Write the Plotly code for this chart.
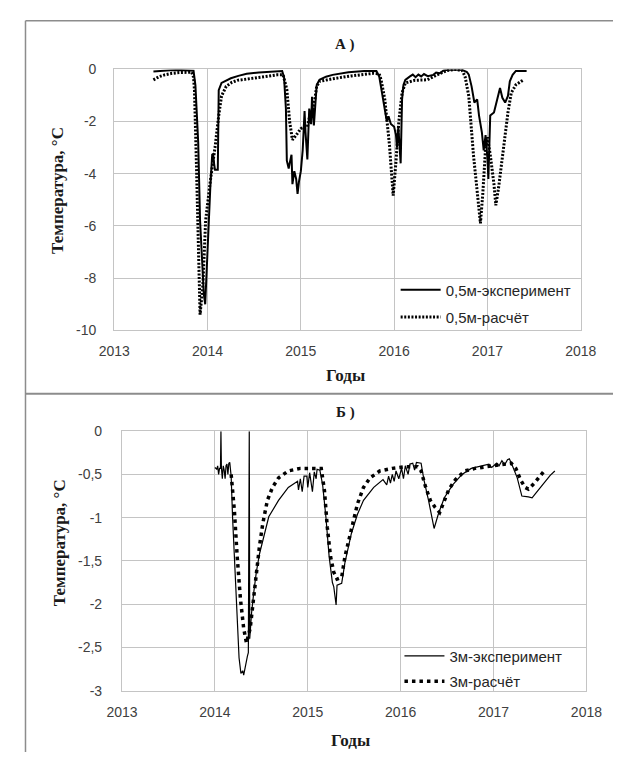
import plotly.graph_objects as go

# ---------------- data ----------------
x_ticks = [2013, 2014, 2015, 2016, 2017, 2018]
x_tick_labels = ["2013", "2014", "2015", "2016", "2017", "2018"]
ya_ticks = [0, -2, -4, -6, -8, -10]
ya_tick_labels = ["0", "-2", "-4", "-6", "-8", "-10"]
yb_ticks = [0, -0.5, -1, -1.5, -2, -2.5, -3]
yb_tick_labels = ["0", "-0,5", "-1", "-1,5", "-2", "-2,5", "-3"]

# Panel A: 0.5 m experiment
a_exp_year = [2013.42, 2013.5, 2013.6, 2013.7, 2013.8, 2013.85, 2013.87, 2013.89, 2013.90, 2013.92,
              2013.94, 2013.96, 2013.975, 2013.985, 2014.0, 2014.03, 2014.05, 2014.06, 2014.07, 2014.08,
              2014.11, 2014.12, 2014.15, 2014.2, 2014.25, 2014.33, 2014.42, 2014.55, 2014.66, 2014.8,
              2014.82, 2014.84, 2014.85, 2014.87, 2014.88, 2014.90, 2014.91, 2014.93, 2014.95, 2014.965,
              2014.98, 2015.0, 2015.02, 2015.04, 2015.05, 2015.07, 2015.09, 2015.11, 2015.12, 2015.14,
              2015.17, 2015.2, 2015.27, 2015.34, 2015.51, 2015.68, 2015.81, 2015.84, 2015.87, 2015.89,
              2015.92, 2015.94, 2015.965, 2016.0, 2016.02, 2016.03, 2016.045, 2016.07, 2016.085, 2016.1,
              2016.12, 2016.17, 2016.2, 2016.23, 2016.26, 2016.29, 2016.32, 2016.36, 2016.42, 2016.45,
              2016.49, 2016.53, 2016.56, 2016.65, 2016.73, 2016.78, 2016.8, 2016.83, 2016.86, 2016.89,
              2016.91, 2016.94, 2016.96, 2016.98, 2017.0, 2017.01, 2017.02, 2017.03, 2017.07, 2017.1,
              2017.12, 2017.135, 2017.16, 2017.19, 2017.22, 2017.24, 2017.27, 2017.305, 2017.42]
a_exp_temp = [-0.08, -0.05, -0.03, -0.02, -0.03, -0.05, -0.6, -2.0, -2.8, -5.8,
              -7.5, -8.6, -9.0, -8.2, -6.5, -4.5, -3.27, -3.25, -3.6, -3.85,
              -3.85, -0.8, -0.52, -0.42, -0.34, -0.25, -0.17, -0.12, -0.09, -0.06,
              -0.3, -1.5, -3.5, -3.8, -3.6, -3.27, -4.4, -3.9, -4.2, -4.77,
              -4.3, -3.9, -3.1, -1.6, -2.4, -3.45, -1.5, -2.1, -1.05, -2.15,
              -0.6, -0.4, -0.28, -0.21, -0.11, -0.06, -0.06, -0.27, -0.9, -1.4,
              -1.96, -1.8, -2.09, -2.2, -2.52, -3.0, -2.2, -3.6, -1.15, -0.6,
              -0.4, -0.27, -0.2, -0.3, -0.2, -0.27, -0.18, -0.26, -0.21, -0.12,
              -0.15, -0.04, -0.02, 0.0, -0.02, -0.1, -0.2, -0.65, -1.27, -1.15,
              -1.77, -2.4, -3.1, -2.52, -3.4, -4.2, -2.8, -1.77, -1.65, -1.2,
              -0.9, -0.71, -1.09, -1.27, -1.02, -0.46, -0.21, -0.06, -0.06]

# Panel A: 0.5 m calculation
a_calc_year = [2013.42, 2013.48, 2013.54, 2013.62, 2013.71, 2013.83, 2013.85, 2013.86, 2013.88, 2013.9,
               2013.92, 2013.95, 2013.98, 2014.03, 2014.08, 2014.12, 2014.15, 2014.2, 2014.26, 2014.32,
               2014.49, 2014.66, 2014.745, 2014.81, 2014.85, 2014.88, 2014.91, 2014.95, 2015.0, 2015.05,
               2015.07, 2015.1, 2015.135, 2015.17, 2015.2, 2015.34, 2015.54, 2015.78, 2015.84, 2015.86,
               2015.9, 2015.95, 2015.99, 2016.02, 2016.05, 2016.085, 2016.12, 2016.22, 2016.355, 2016.46,
               2016.56, 2016.66, 2016.73, 2016.76, 2016.8, 2016.85, 2016.9, 2016.925, 2016.95, 2016.98,
               2017.0, 2017.03, 2017.07, 2017.09, 2017.12, 2017.17, 2017.22, 2017.255, 2017.305, 2017.36,
               2017.39]
a_calc_temp = [-0.4, -0.28, -0.21, -0.15, -0.12, -0.11, -0.3, -0.8, -3.5, -7.0,
               -9.4, -8.27, -5.78, -4.27, -3.0, -1.77, -1.02, -0.65, -0.5, -0.42,
               -0.34, -0.27, -0.21, -0.21, -0.77, -2.0, -2.7, -2.52, -2.27, -2.2,
               -2.2, -1.7, -1.52, -0.65, -0.46, -0.36, -0.25, -0.15, -0.17, -0.4,
               -1.15, -2.9, -4.84, -3.52, -2.02, -0.9, -0.52, -0.42, -0.4, -0.21,
               -0.05, 0.0, -0.05, -0.27, -1.02, -3.27, -5.15, -5.9, -4.77, -3.02,
               -2.6, -3.27, -4.4, -5.21, -4.52, -3.02, -1.65, -0.9, -0.59, -0.46,
               -0.4]

# Panel B: 3 m experiment
b_exp_year = [2014.0, 2014.02, 2014.03, 2014.04, 2014.05, 2014.06, 2014.065, 2014.07, 2014.08, 2014.09,
              2014.1, 2014.11, 2014.12, 2014.13, 2014.14, 2014.15, 2014.16, 2014.175, 2014.19, 2014.215,
              2014.235, 2014.26, 2014.28, 2014.30, 2014.31, 2014.33, 2014.35, 2014.36, 2014.37, 2014.375,
              2014.395, 2014.42, 2014.446, 2014.48, 2014.515, 2014.58, 2014.685, 2014.79, 2014.89, 2014.9,
              2014.92, 2014.94, 2014.96, 2014.99, 2015.0, 2015.02, 2015.05, 2015.07, 2015.09, 2015.1,
              2015.13, 2015.16, 2015.195, 2015.23, 2015.265, 2015.28, 2015.305, 2015.315, 2015.365, 2015.40,
              2015.47, 2015.535, 2015.60, 2015.71, 2015.81, 2015.85, 2015.87, 2015.89, 2015.91, 2015.93,
              2015.95, 2015.98, 2016.01, 2016.03, 2016.05, 2016.08, 2016.1, 2016.13, 2016.15, 2016.17,
              2016.22, 2016.25, 2016.30, 2016.335, 2016.36, 2016.405, 2016.47, 2016.56, 2016.66, 2016.76,
              2016.90, 2016.95, 2016.98, 2017.035, 2017.06, 2017.09, 2017.12, 2017.15, 2017.17, 2017.2,
              2017.255, 2017.305, 2017.375, 2017.415, 2017.46, 2017.545, 2017.61, 2017.66]
b_exp_temp = [-0.42, -0.44, -0.4, -0.5, -0.43, -0.43, 0.0, -0.42, -0.55, -0.4,
              -0.45, -0.55, -0.4, -0.38, -0.5, -0.37, -0.36, -0.52, -0.99, -1.56,
              -2.12, -2.62, -2.80, -2.77, -2.82, -2.69, -2.6, -2.56, 0.0, -2.4,
              -2.1, -1.85, -1.63, -1.42, -1.26, -0.99, -0.80, -0.65, -0.58, -0.68,
              -0.55, -0.7, -0.52, -0.52, -0.65, -0.48, -0.7, -0.47, -0.55, -0.44,
              -0.45, -0.62, -0.99, -1.45, -1.75, -1.80, -2.01, -1.78, -1.76, -1.52,
              -1.18, -0.96, -0.80, -0.65, -0.56, -0.62, -0.52, -0.6, -0.50, -0.58,
              -0.46, -0.55, -0.43, -0.55, -0.4, -0.5, -0.38, -0.37, -0.45, -0.36,
              -0.37, -0.56, -0.80, -0.99, -1.125, -0.96, -0.77, -0.62, -0.50, -0.43,
              -0.39, -0.38, -0.42, -0.37, -0.4, -0.34, -0.39, -0.33, -0.32, -0.39,
              -0.54, -0.75, -0.76, -0.77, -0.71, -0.60, -0.51, -0.46]

# Panel B: 3 m calculation
b_calc_year = [2014.175, 2014.21, 2014.24, 2014.275, 2014.31, 2014.34, 2014.38, 2014.41, 2014.446, 2014.48,
               2014.515, 2014.565, 2014.62, 2014.685, 2014.79, 2014.92, 2015.06, 2015.145, 2015.18, 2015.21,
               2015.245, 2015.28, 2015.315, 2015.365, 2015.40, 2015.47, 2015.535, 2015.60, 2015.67, 2015.775,
               2015.91, 2016.05, 2016.18, 2016.22, 2016.27, 2016.32, 2016.37, 2016.42, 2016.47, 2016.52,
               2016.59, 2016.69, 2016.80, 2016.93, 2017.07, 2017.19, 2017.24, 2017.29, 2017.34, 2017.375,
               2017.44, 2017.51, 2017.545]
b_calc_temp = [-0.5, -0.92, -1.45, -1.94, -2.28, -2.45, -2.28, -1.97, -1.63, -1.33,
               -1.07, -0.80, -0.65, -0.54, -0.46, -0.43, -0.43, -0.43, -0.69, -1.11,
               -1.45, -1.63, -1.71, -1.69, -1.45, -1.11, -0.84, -0.65, -0.54, -0.46,
               -0.43, -0.41, -0.41, -0.46, -0.65, -0.80, -0.88, -0.94, -0.80, -0.67,
               -0.56, -0.46, -0.43, -0.41, -0.39, -0.37, -0.43, -0.56, -0.65, -0.67,
               -0.60, -0.50, -0.46]

name_a_exp = "0,5м-эксперимент"
name_a_calc = "0,5м-расчёт"
name_b_exp = "3м-эксперимент"
name_b_calc = "3м-расчёт"

# ---------------- layout helpers (pixel -> paper) ----------------
W, H = 629, 760


def fx(p):
    return p / W


def fy(p):
    return 1 - p / H


SANS = "Liberation Sans, Arial, sans-serif"
SERIF = "Liberation Serif, Times New Roman, serif"
GRID = "#c4c4c4"
TICKC = "#404040"

fig = go.Figure()

fig.add_trace(go.Scatter(x=a_exp_year, y=a_exp_temp, mode="lines", name=name_a_exp,
                         line=dict(color="black", width=2), xaxis="x", yaxis="y", legend="legend"))
fig.add_trace(go.Scatter(x=a_calc_year, y=a_calc_temp, mode="lines", name=name_a_calc,
                         line=dict(color="black", width=3, dash="2px,1.6px"), xaxis="x", yaxis="y",
                         legend="legend2"))
fig.add_trace(go.Scatter(x=b_exp_year, y=b_exp_temp, mode="lines", name=name_b_exp,
                         line=dict(color="black", width=1.2), xaxis="x2", yaxis="y2", legend="legend3"))
fig.add_trace(go.Scatter(x=b_calc_year, y=b_calc_temp, mode="lines", name=name_b_calc,
                         line=dict(color="black", width=3.5, dash="3.5px,4px"), xaxis="x2", yaxis="y2",
                         legend="legend4"))

axis_common = dict(showgrid=True, gridcolor=GRID, gridwidth=1.2, showline=True, linecolor=GRID,
                   linewidth=1.2, mirror=True, zeroline=False, ticks="",
                   tickfont=dict(family=SANS, size=14, color=TICKC))

fig.update_layout(
    width=W, height=H,
    margin=dict(l=0, r=0, t=0, b=0),
    paper_bgcolor="white", plot_bgcolor="white",
    showlegend=True,
    xaxis=dict(domain=[fx(103.5), fx(595)], range=[2013, 2018], tickvals=x_ticks, ticktext=x_tick_labels,
               anchor="y", ticklabelstandoff=8, **axis_common),
    yaxis=dict(domain=[fy(329.3), fy(62.7)], range=[-10, 0], tickvals=ya_ticks, ticktext=ya_tick_labels,
               anchor="x", ticklabelstandoff=14, **axis_common),
    xaxis2=dict(domain=[fx(111.7), fx(601)], range=[2013, 2018], tickvals=x_ticks, ticktext=x_tick_labels,
                anchor="y2", ticklabelstandoff=8, **axis_common),
    yaxis2=dict(domain=[fy(697.3), fy(432.3)], range=[-3, 0], tickvals=yb_ticks, ticktext=yb_tick_labels,
                anchor="x2", ticklabelstandoff=16, **axis_common),
)

leg_common = dict(xanchor="left", yanchor="middle", bgcolor="rgba(0,0,0,0)", borderwidth=0,
                  font=dict(family=SANS, size=15, color="#262626"), itemwidth=40)
fig.update_layout(
    legend=dict(x=fx(400), y=fy(288), **leg_common),
    legend2=dict(x=fx(400), y=fy(316), **leg_common),
    legend3=dict(x=fx(404), y=fy(662), **leg_common),
    legend4=dict(x=fx(404), y=fy(688), **leg_common),
)

# titles as annotations
ann = []
title_font = dict(family=SERIF, size=15, color="#1a1a1a")
ann.append(dict(text="<b>А )</b>", x=fx(347), y=fy(37), xref="paper", yref="paper", showarrow=False,
                font=title_font, xanchor="center", yanchor="middle"))
ann.append(dict(text="<b>Б )</b>", x=fx(347), y=fy(413), xref="paper", yref="paper", showarrow=False,
                font=title_font, xanchor="center", yanchor="middle"))
axt_font = dict(family=SERIF, size=17, color="#1a1a1a")
ann.append(dict(text="<b>Годы</b>", x=fx(347), y=fy(375), xref="paper", yref="paper", showarrow=False,
                font=axt_font, xanchor="center", yanchor="middle"))
ann.append(dict(text="<b>Годы</b>", x=fx(352), y=fy(748), xref="paper", yref="paper", showarrow=False,
                font=axt_font, xanchor="center", yanchor="middle"))
ann.append(dict(text="<b>Температура, °С</b>", x=fx(43), y=fy(186), xref="paper", yref="paper",
                showarrow=False, font=axt_font, textangle=-90, xanchor="center", yanchor="middle"))
ann.append(dict(text="<b>Температура, °С</b>", x=fx(46), y=fy(546), xref="paper", yref="paper",
                showarrow=False, font=axt_font, textangle=-90, xanchor="center", yanchor="middle"))
fig.update_layout(annotations=ann)

# panel frames
BORDER = "#8c8c8c"
shapes = [
    dict(type="line", xref="paper", yref="paper", x0=fx(10), x1=1, y0=fy(13), y1=fy(13),
         line=dict(color=BORDER, width=1.5)),
    dict(type="line", xref="paper", yref="paper", x0=fx(10), x1=fx(10), y0=fy(13), y1=0,
         line=dict(color=BORDER, width=1.5)),
    dict(type="line", xref="paper", yref="paper", x0=fx(10), x1=1, y0=fy(394), y1=fy(394),
         line=dict(color=BORDER, width=2)),
]
fig.update_layout(shapes=shapes)

fig.write_html("out.html", config={"displayModeBar": False},
               post_script="document.body.style.margin='0';document.body.style.overflow='hidden';")
